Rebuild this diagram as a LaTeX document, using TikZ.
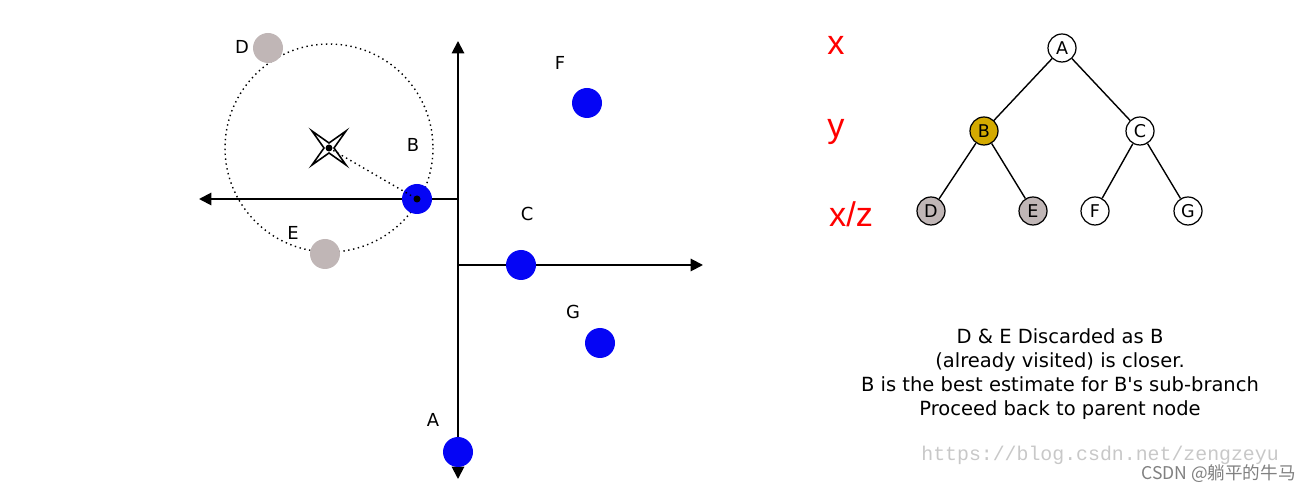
\documentclass[tikz,border=0pt]{standalone}
\usepackage{fontspec}
\setmainfont{DejaVu Sans}
\newfontfamily\redfont{Liberation Sans}
\newfontfamily\cjkfont{Noto Sans CJK SC}
\setmonofont{Liberation Mono}
\usetikzlibrary{arrows.meta}
\definecolor{ptblue}{RGB}{5,5,245}
\definecolor{ptgrey}{RGB}{192,182,182}
\definecolor{bgold}{RGB}{212,170,0}
\definecolor{wmgrey}{RGB}{200,200,200}
\begin{document}
\begin{tikzpicture}[x=0.02cm, y=-0.02cm,
    axis/.style={line width=1.1pt, -{Triangle[length=7pt, width=7pt]}},
    pt/.style={circle, inner sep=0pt, minimum size=0.6cm},
    ptlabel/.style={font=\fontsize{10.2}{12}\selectfont},
    tnode/.style={circle, draw, line width=0.7pt, inner sep=0pt, minimum size=0.56cm, font=\fontsize{10}{12}\selectfont},
    tedge/.style={line width=0.8pt},
    level/.style={text=red, font=\redfont\fontsize{19.5}{22}\selectfont}]
    \useasboundingbox (0,0) rectangle (1311,492);
    % search circle round the query point
    \coordinate (query) at (329,148);
    \draw[dotted, line width=0.8pt] (query) circle[radius=104];
    % axes (splitting lines)
    \coordinate (vbot) at (458,479);
    \coordinate (vtop) at (458,41);
    \coordinate (lstart) at (458,199);
    \coordinate (lend) at (199,199);
    \coordinate (rstart) at (458,265);
    \coordinate (rend) at (703,265);
    \draw[axis, {Triangle[length=7pt, width=7pt]}-{Triangle[length=7pt, width=7pt]}] (vbot) -- (vtop);
    \draw[axis] (lstart) -- (lend);
    \draw[axis] (rstart) -- (rend);
    % points
    \node[pt, fill=ptgrey] (ptD) at (268,48) {};
    \node[pt, fill=ptgrey] (ptE) at (325,254) {};
    \node[pt, fill=ptblue] (ptA) at (458,452) {};
    \node[pt, fill=ptblue] (ptB) at (417,199) {};
    \node[pt, fill=ptblue] (ptC) at (521,265) {};
    \node[pt, fill=ptblue] (ptF) at (587,103) {};
    \node[pt, fill=ptblue] (ptG) at (600,343) {};
    \draw[dotted, line width=0.8pt] (query) -- (ptB.center);
    \fill (ptB.center) circle[radius=3.5];
    \node[ptlabel] at (242,47) {D};
    \node[ptlabel] at (413,145) {B};
    \node[ptlabel] at (293,233) {E};
    \node[ptlabel] at (560,63) {F};
    \node[ptlabel] at (527,214) {C};
    \node[ptlabel] at (573,312) {G};
    \node[ptlabel] at (433,420) {A};
    % query marker
    \draw[line width=0.9pt, shift={(query)}] (-17,-17) -- (0,-5) -- (17,-17) -- (5,0)
        -- (17,17) -- (0,5) -- (-17,17) -- (-5,0) -- cycle;
    \fill (query) circle[radius=3.5];
    % kd-tree
    \node[tnode] (tA) at (1062,48) {A};
    \node[tnode, fill=bgold] (tB) at (984,131) {B};
    \node[tnode] (tC) at (1140,131) {C};
    \node[tnode, fill=ptgrey] (tD) at (931,211) {D};
    \node[tnode, fill=ptgrey] (tE) at (1033,211) {E};
    \node[tnode] (tF) at (1095,211) {F};
    \node[tnode] (tG) at (1188,211) {G};
    \draw[tedge] (tA) -- (tB);
    \draw[tedge] (tA) -- (tC);
    \draw[tedge] (tB) -- (tD);
    \draw[tedge] (tB) -- (tE);
    \draw[tedge] (tC) -- (tF);
    \draw[tedge] (tC) -- (tG);
    \node[level] at (836,45) {x};
    \node[level] at (836,132) {y};
    \node[level] at (851,214) {x/z};
    % explanation
    \node[align=center, font=\fontsize{11.1}{13.8}\selectfont] (note) at (1060,374)
        {D \& E Discarded as B\\(already visited) is closer.\\B is the best estimate for B\textquotesingle s sub-branch\\Proceed back to parent node};
    % watermark
    \node[text=wmgrey, inner sep=0pt, font=\ttfamily\fontsize{11.3}{13}\selectfont, anchor=west] (url) at (921,455) {https://blog.csdn.net/zengzeyu};
    \node[text=gray, inner sep=0pt, font=\cjkfont\fontsize{10}{12}\selectfont, anchor=east] (mark) at (1296,474) {CSDN @躺平的牛马};
\end{tikzpicture}
\end{document}
